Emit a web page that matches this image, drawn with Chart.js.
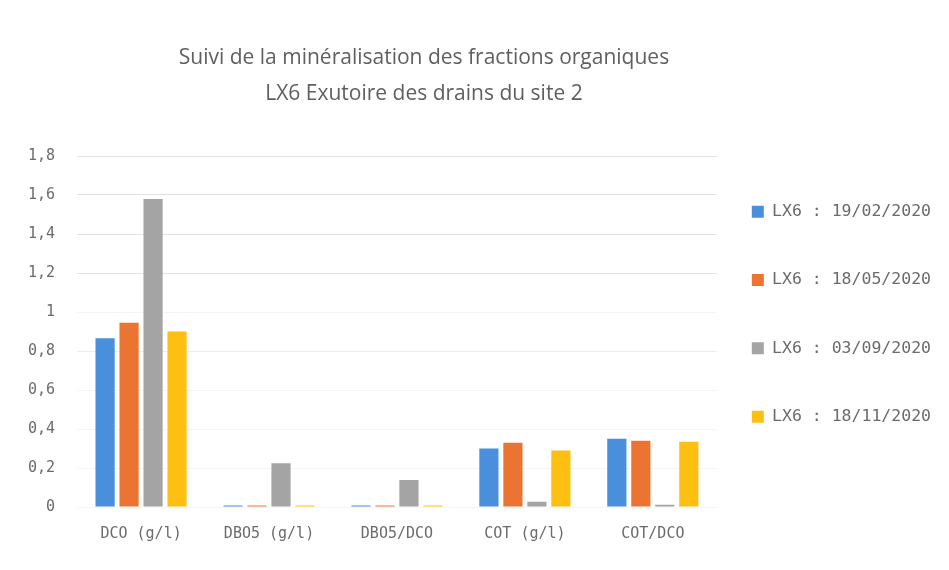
<!DOCTYPE html>
<html>
<head>
<meta charset="utf-8">
<script src="https://cdn.jsdelivr.net/npm/chart.js@4.4.1/dist/chart.umd.min.js"></script>
<style>
    html, body { margin: 0; padding: 0; background: #ffffff; }
    #wrap { width: 949px; height: 570px; }
</style>
</head>
<body>
<div id="wrap"><canvas id="chart" width="949" height="570"></canvas></div>
<script>
// Categories and series
const categories = ['DCO (g/l)', 'DBO5 (g/l)', 'DBO5/DCO', 'COT (g/l)', 'COT/DCO'];
const seriesLabels = ['LX6 : 19/02/2020', 'LX6 : 18/05/2020', 'LX6 : 03/09/2020', 'LX6 : 18/11/2020'];
const feb2020 = [0.865, 0.008, 0.008, 0.30, 0.35];
const may2020 = [0.945, 0.008, 0.008, 0.33, 0.34];
const sep2020 = [1.58, 0.225, 0.138, 0.027, 0.012];
const nov2020 = [0.90, 0.008, 0.008, 0.29, 0.335];
const yTicks = [0, 0.2, 0.4, 0.6, 0.8, 1, 1.2, 1.4, 1.6, 1.8];

const colors = ['#4a8fdb', '#ec7432', '#a4a4a4', '#fcbf12'];
const textGray = '#6b6b6b';
const titleFont = "'Open Sans', 'Liberation Sans', sans-serif";
// the small labels in the picture are set very wide, a monospace face matches their width
const smallFont = "'DejaVu Sans Mono', 'Liberation Mono', monospace";

const datasets = [feb2020, may2020, sep2020, nov2020].map(function(values, i) {
    return {
        label: seriesLabels[i],
        data: values,
        backgroundColor: colors[i],
        borderWidth: 0,
        categoryPercentage: 0.75,
        barPercentage: 0.8
    };
});

// the title sits a little right of the plot centre in the picture
const titleShift = {
    id: 'titleShift',
    afterLayout: function(c) {
        c.titleBlock.left += 54;
    }
};

const ctx = document.getElementById('chart').getContext('2d');
const chart = new Chart(ctx, {
    type: 'bar',
    data: {
        labels: categories,
        datasets: datasets
    },
    options: {
        responsive: false,
        animation: false,
        layout: {
            padding: { top: 22, left: 6, right: 8, bottom: 9 }
        },
        plugins: {
            title: {
                display: true,
                text: ['Suivi de la minéralisation des fractions organiques', 'LX6 Exutoire des drains du site 2'],
                color: '#5f5f5f',
                fullSize: false,
                font: { family: titleFont, size: 21, weight: 'normal', lineHeight: 36 / 21 },
                padding: { top: 18, bottom: 44 }
            },
            legend: {
                position: 'right',
                align: 'start',
                fullSize: false,
                title: {
                    display: true,
                    text: '',
                    padding: 0,
                    font: { size: 10, lineHeight: 1.25 }
                },
                labels: {
                    boxWidth: 12,
                    boxHeight: 12,
                    padding: 35,
                    color: textGray,
                    font: { family: smallFont, size: 16.5, lineHeight: 33.3 / 16.5 },
                    // text as a one-line array so the row height follows the font lineHeight
                    generateLabels: function(c) {
                        const items = Chart.defaults.plugins.legend.labels.generateLabels(c);
                        items.forEach(function(item) { item.text = [item.text]; });
                        return items;
                    }
                }
            },
            tooltip: { enabled: false }
        },
        scales: {
            x: {
                grid: { display: false, drawTicks: false },
                border: { display: false },
                ticks: {
                    color: textGray,
                    padding: 18,
                    font: { family: smallFont, size: 15 }
                }
            },
            y: {
                min: 0,
                max: 1.8,
                afterBuildTicks: function(axis) {
                    axis.ticks = yTicks.map(function(v) { return { value: v }; });
                },
                grid: {
                    drawTicks: false,
                    color: function(c) {
                        const v = c.tick ? c.tick.value : 0;
                        if (v >= 1.1) return '#e2e2e2';
                        if (v > 0.7 && v < 0.9) return '#ececec';
                        return '#f5f5f5';
                    }
                },
                border: { display: false },
                ticks: {
                    color: textGray,
                    padding: 22,
                    font: { family: smallFont, size: 15 },
                    callback: function(value) {
                        return String(Math.round(value * 10) / 10).replace('.', ',');
                    }
                }
            }
        }
    },
    plugins: [titleShift]
});
</script>
</body>
</html>
